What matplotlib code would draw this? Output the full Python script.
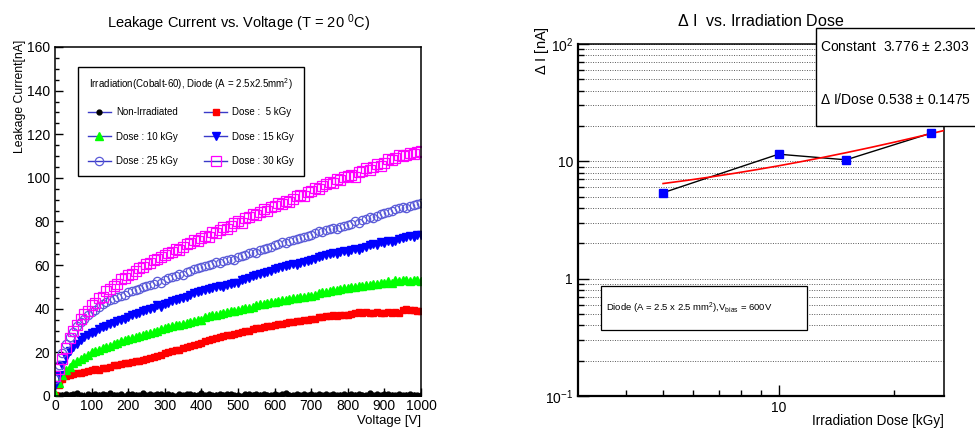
import numpy as np
import matplotlib
matplotlib.use('Agg')
import matplotlib.pyplot as plt
from matplotlib.lines import Line2D
from matplotlib.patches import Rectangle
from matplotlib.ticker import MultipleLocator, FixedLocator, NullFormatter

plt.rcParams['font.family'] = ['Liberation Sans', 'DejaVu Sans']
plt.rcParams['mathtext.fontset'] = 'custom'
plt.rcParams['mathtext.rm'] = 'Liberation Sans'
plt.rcParams['mathtext.it'] = 'Liberation Sans:italic'
plt.rcParams['mathtext.bf'] = 'Liberation Sans:bold'

# ---- left plot data: leakage current [nA] vs bias voltage [V]
voltage = list(range(0, 1001, 10))

non_irr = [0.8, 0.3, 0.6, 1.0, 0.4, 0.7, 1.2, 0.5, 0.2, 0.9,
           0.6, 1.1, 0.4, 0.8, 0.3, 1.4, 0.6, 0.5, 0.9, 0.2,
           0.7, 1.0, 0.4, 0.6, 1.3, 0.5, 0.8, 0.3, 0.7, 1.0,
           0.4, 0.9, 0.6, 0.2, 1.1, 0.5, 0.7, 0.9, 0.3, 0.6,
           1.2, 0.4, 0.8, 0.5, 0.6, 1.0, 0.3, 0.7, 0.9, 0.5,
           0.6, 0.2, 1.1, 0.8, 0.4, 0.7, 0.5, 1.0, 0.6, 0.3,
           0.9, 0.5, 0.7, 1.2, 0.4, 0.6, 0.8, 0.3, 1.0, 0.5,
           0.7, 0.4, 0.9, 0.6, 1.1, 0.3, 0.8, 0.5, 0.6, 1.0,
           0.4, 0.7, 0.5, 0.9, 0.3, 0.6, 1.2, 0.5, 0.8, 0.4,
           0.7, 1.0, 0.3, 0.6, 0.9, 0.5, 0.4, 0.8, 0.6, 0.3, 0.5]

dose_5 = [0.5, 5.0, 8.0, 9.0, 9.5, 10.0, 10.5, 10.5, 11.0, 11.5,
          12.0, 12.5, 12.0, 13.0, 13.0, 13.5, 14.0, 14.0, 14.5, 15.0,
          15.0, 15.5, 16.0, 16.0, 16.5, 17.0, 17.5, 18.0, 18.5, 19.0,
          19.5, 20.0, 20.5, 21.0, 21.0, 22.0, 22.5, 23.0, 23.5, 24.0,
          24.5, 25.0, 25.5, 26.0, 26.5, 27.0, 27.5, 28.0, 28.0, 28.5,
          29.0, 29.5, 30.0, 30.0, 30.5, 31.0, 31.0, 31.5, 32.0, 32.0,
          32.5, 33.0, 33.0, 33.5, 34.0, 34.0, 34.5, 34.5, 35.0, 35.0,
          35.5, 35.5, 36.0, 36.0, 36.5, 36.5, 37.0, 36.5, 37.0, 37.0,
          37.0, 37.5, 38.0, 38.5, 38.0, 38.5, 38.0, 38.0, 38.5, 38.0,
          38.0, 38.5, 38.0, 38.5, 38.0, 39.5, 40.0, 39.5, 39.5, 39.0, 39.0]

dose_10 = [1.0, 6.0, 9.5, 12.0, 13.5, 15.0, 16.0, 17.0, 18.0, 19.0,
           20.0, 20.5, 21.0, 22.0, 22.5, 23.0, 24.0, 24.5, 25.0, 25.5,
           26.0, 26.5, 27.0, 27.5, 28.0, 28.5, 29.0, 29.5, 30.0, 30.5,
           31.0, 31.5, 32.0, 32.5, 32.5, 33.0, 33.5, 34.0, 34.5, 35.0,
           35.0, 36.0, 36.5, 37.0, 37.0, 37.5, 38.0, 38.5, 39.0, 39.0,
           39.5, 40.0, 40.5, 40.5, 41.0, 41.5, 42.0, 42.0, 42.5, 43.0,
           43.0, 43.5, 44.0, 44.0, 44.5, 45.0, 45.0, 45.5, 45.5, 46.0,
           46.0, 46.5, 47.0, 47.5, 47.5, 48.0, 48.5, 48.5, 49.0, 49.5,
           49.5, 50.0, 50.0, 50.5, 50.5, 51.0, 51.0, 51.5, 51.5, 52.0,
           52.0, 52.5, 52.0, 53.0, 52.5, 53.0, 53.0, 52.5, 53.0, 53.0, 52.5]

dose_15 = [5.0, 9.5, 14.0, 18.0, 20.5, 22.5, 24.0, 25.5, 27.0, 28.0,
           29.0, 29.5, 30.5, 31.5, 32.0, 33.0, 33.5, 34.5, 35.0, 35.5,
           36.0, 37.0, 37.5, 38.0, 39.0, 39.5, 40.0, 40.5, 41.5, 41.0,
           42.0, 42.5, 43.5, 44.0, 44.5, 45.0, 45.5, 46.5, 47.0, 47.5,
           48.0, 48.5, 49.0, 49.5, 50.0, 50.5, 50.0, 51.0, 51.5, 52.0,
           52.0, 53.0, 53.5, 54.0, 55.0, 55.5, 56.0, 56.5, 57.0, 57.5,
           58.0, 58.5, 59.0, 59.5, 60.0, 60.5, 60.0, 61.0, 61.5, 62.0,
           62.5, 63.0, 63.5, 64.0, 64.5, 65.0, 65.5, 65.0, 66.0, 66.5,
           66.0, 67.0, 67.5, 67.0, 68.0, 68.5, 69.0, 69.5, 69.0, 70.5,
           70.0, 71.0, 70.5, 71.0, 72.0, 72.5, 73.0, 73.5, 73.0, 74.0, 74.0]

dose_25 = [8.0, 14.0, 19.5, 24.0, 27.0, 29.5, 32.0, 34.0, 35.5, 37.0,
           38.5, 39.5, 41.0, 42.0, 43.0, 44.0, 44.5, 45.5, 46.0, 46.5,
           47.5, 48.0, 48.5, 49.0, 50.0, 50.5, 51.0, 51.5, 52.5, 52.0,
           53.0, 54.0, 54.5, 55.0, 56.0, 55.5, 57.0, 57.5, 58.0, 58.5,
           59.0, 59.5, 60.0, 60.5, 61.5, 61.0, 62.0, 62.5, 63.0, 62.5,
           63.5, 64.0, 64.5, 65.5, 66.0, 65.5, 67.0, 67.5, 68.0, 68.5,
           69.0, 69.5, 70.5, 70.0, 71.0, 71.5, 72.0, 72.5, 73.0, 73.5,
           74.0, 74.5, 75.5, 75.0, 76.0, 76.5, 77.0, 76.5, 77.5, 78.0,
           78.5, 79.0, 80.0, 79.5, 80.5, 81.0, 82.0, 81.5, 82.5, 83.5,
           84.0, 84.5, 85.0, 85.5, 86.0, 86.5, 86.0, 87.0, 87.5, 88.0, 88.5]

dose_30 = [9.0, 12.5, 17.0, 22.0, 26.5, 30.0, 32.5, 35.5, 37.5, 39.0,
           41.5, 42.5, 45.0, 45.5, 48.0, 49.0, 50.5, 51.5, 53.5, 54.0,
           55.5, 56.0, 57.5, 58.5, 59.0, 60.5, 61.0, 62.5, 63.0, 63.5,
           64.5, 65.5, 66.0, 67.5, 67.0, 68.5, 69.5, 70.0, 71.5, 71.0,
           72.5, 73.5, 73.0, 75.0, 74.5, 76.0, 77.5, 76.5, 78.0, 79.5,
           80.0, 79.5, 81.5, 82.0, 83.5, 83.0, 84.5, 85.5, 85.0, 86.5,
           87.0, 88.5, 88.0, 89.5, 89.0, 90.5, 91.5, 92.0, 91.5, 93.5,
           94.0, 95.5, 95.0, 96.5, 97.0, 98.0, 97.5, 99.5, 99.0, 100.5,
           101.0, 101.5, 100.5, 102.5, 103.0, 104.5, 103.5, 105.0, 106.5, 105.5,
           107.0, 108.5, 108.0, 109.0, 110.5, 110.0, 110.5, 111.5, 111.0, 112.0, 112.5]

# ---- right plot data: delta I at 600 V vs dose
dose_kgy = [5, 10, 15, 25]
delta_i = [5.4, 11.5, 10.3, 17.4]
fit_const = 3.776
fit_slope = 0.538

fig = plt.figure(figsize=(9.75, 4.3), dpi=100)

# ================= left panel
ax = fig.add_axes([0.0564, 0.0791, 0.3754, 0.8116])
series = [
    (non_irr, 'Non-Irradiated', dict(marker='o', ms=3.5, mfc='black', mec='black')),
    (dose_5, 'Dose :  5 kGy', dict(marker='s', ms=5, mfc='red', mec='red')),
    (dose_10, 'Dose : 10 kGy', dict(marker='^', ms=6, mfc='#00ff00', mec='#00ff00')),
    (dose_15, 'Dose : 15 kGy', dict(marker='v', ms=6, mfc='blue', mec='blue')),
    (dose_25, 'Dose : 25 kGy', dict(marker='o', ms=6, mfc='none', mec='#5a5ad8', mew=0.9)),
    (dose_30, 'Dose : 30 kGy', dict(marker='s', ms=6.5, mfc='none', mec='#ff00ff', mew=0.9)),
]
for vals, lab, st in series:
    ax.plot(voltage, vals, linestyle='none', **st)

ax.set_xlim(0, 1000)
ax.set_ylim(0, 160)
ax.xaxis.set_major_locator(MultipleLocator(100))
ax.xaxis.set_minor_locator(MultipleLocator(20))
ax.yaxis.set_major_locator(MultipleLocator(20))
ax.yaxis.set_minor_locator(MultipleLocator(5))
ax.tick_params(which='both', direction='in', top=False, right=False, labelsize=10)
ax.tick_params(which='major', length=6, width=1)
ax.tick_params(which='minor', length=3, width=1)
ax.tick_params(axis='x', pad=2)
for sp in ax.spines.values():
    sp.set_linewidth(1.1)
ax.set_title('Leakage Current vs. Voltage (T = 20 $^{0}$C)', fontsize=10.5, pad=14)
ax.set_xlabel('Voltage [V]', fontsize=9.5, ha='right')
ax.xaxis.set_label_coords(1.0, -0.055)
ax.set_ylabel('Leakage Current[nA]', fontsize=8.8, ha='right')
ax.yaxis.set_label_coords(-0.08, 1.02)

leg_line = '#3a3ac8'
handles = []
labels = []
# column-wise fill to get the row layout of the reference
for idx in [0, 2, 4, 1, 3, 5]:
    vals, lab, st = series[idx]
    handles.append(Line2D([0], [0], color=leg_line, lw=1, **st))
    labels.append(lab)
leg = ax.legend(handles, labels, ncol=2, loc='upper left',
                bbox_to_anchor=(0.063, 0.943),
                title='Irradiation(Cobalt-60), Diode (A = 2.5x2.5mm$^{2}$)',
                fontsize=7, title_fontsize=7, frameon=True, fancybox=False,
                edgecolor='black', framealpha=1, borderpad=1.0,
                labelspacing=1.5, columnspacing=2.7, handlelength=2.4,
                handletextpad=0.5, borderaxespad=0)
leg.get_frame().set_linewidth(1.0)

# ================= right panel
ax2 = fig.add_axes([0.5928, 0.0791, 0.3754, 0.8186])
fit_x = np.linspace(5, 27, 200)
ax2.plot(dose_kgy, delta_i, color='black', lw=1, zorder=3)
ax2.plot(fit_x, fit_const + fit_slope * fit_x, color='red', lw=1.2, zorder=4)
ax2.plot(dose_kgy, delta_i, linestyle='none', marker='s', ms=5.5,
         mfc='blue', mec='blue', zorder=5)
ax2.set_xscale('log')
ax2.set_yscale('log')
ax2.set_xlim(3, 27)
ax2.set_ylim(0.1, 100)
ax2.xaxis.set_major_locator(FixedLocator([10]))
ax2.xaxis.set_minor_locator(FixedLocator([4, 5, 6, 7, 8, 9, 20]))
ax2.xaxis.set_minor_formatter(NullFormatter())
ax2.set_xticklabels(['10'])
ax2.set_yticks([0.1, 1, 10, 100], ['10$^{-1}$', '1', '10', '10$^{2}$'])
ymin = [m * d for d in [0.1, 1, 10] for m in range(2, 10)]
ax2.yaxis.set_minor_locator(FixedLocator(ymin))
ax2.yaxis.set_minor_formatter(NullFormatter())
ax2.yaxis.grid(True, which='both', linestyle=(0, (1, 1.5)), color='0.35', linewidth=0.7)
ax2.set_axisbelow(True)
ax2.tick_params(which='both', direction='in', top=False, right=False, labelsize=10)
ax2.tick_params(which='major', length=8, width=1)
ax2.tick_params(which='minor', length=4, width=1)
for sp in ax2.spines.values():
    sp.set_linewidth(1.1)
ax2.spines['left'].set_linewidth(1.6)
ax2.spines['bottom'].set_linewidth(1.6)
ax2.set_title('$\\Delta$ I  vs. Irradiation Dose', fontsize=11.5, pad=13)
ax2.set_xlabel('Irradiation Dose [kGy]', fontsize=9.8, ha='right')
ax2.xaxis.set_label_coords(1.0, -0.05)
ax2.set_ylabel('$\\Delta$ I [nA]', fontsize=10.5, ha='right')
ax2.yaxis.set_label_coords(-0.075, 1.05)

# text box with diode info
ax2.add_patch(Rectangle((0.063, 0.1875), 0.563, 0.125, transform=ax2.transAxes,
                        facecolor='white', edgecolor='black', lw=0.9, zorder=6))
ax2.text(0.077, 0.25, 'Diode (A = 2.5 x 2.5 mm$^{2}$),V$_{\\rm bias}$ = 600V',
         transform=ax2.transAxes, fontsize=6.8, va='center', zorder=7)

# fit statistics box (sticks out of the frame like in ROOT)
fig.patches.append(Rectangle((816 / 975, 1 - 126 / 430), 0.2, 98 / 430,
                             transform=fig.transFigure, facecolor='white',
                             edgecolor='black', lw=1, zorder=10))
fig.text(820 / 975, 1 - 47 / 430, 'Constant  3.776 $\\pm$ 2.303', fontsize=10,
         va='center', zorder=11)
fig.text(820 / 975, 1 - 100 / 430, '$\\Delta$ I/Dose 0.538 $\\pm$ 0.1475', fontsize=10,
         va='center', zorder=11)

fig.savefig('out.png', dpi=100)
